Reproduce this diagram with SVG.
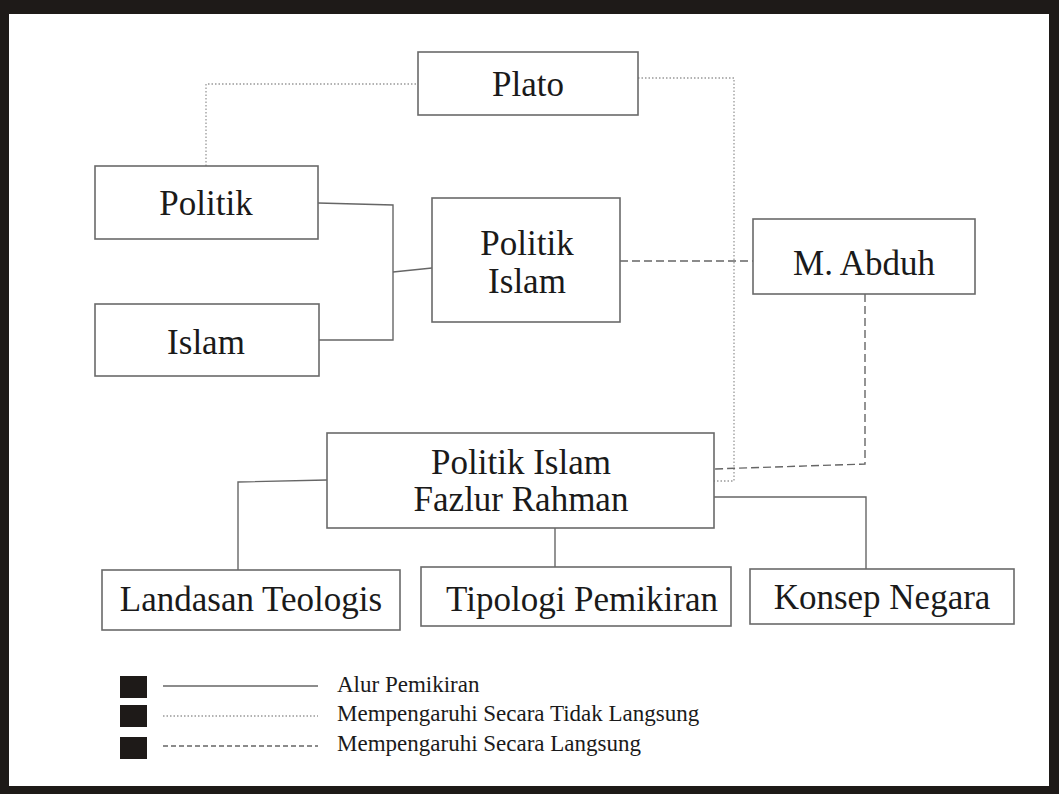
<svg xmlns="http://www.w3.org/2000/svg" width="1059" height="794" viewBox="0 0 1059 794">
<style>
.box{fill:#fff;stroke:#6a6a6a;stroke-width:1.6}
.t{font-family:"Liberation Serif","Times New Roman",serif;font-size:35px;fill:#1a1a1a;text-anchor:middle}
.lg{font-family:"Liberation Serif","Times New Roman",serif;font-size:23px;fill:#1a1a1a}
.solid{fill:none;stroke:#666;stroke-width:1.4}
.dot{fill:none;stroke:#999;stroke-width:1.3;stroke-dasharray:1.5 2}
.dash{fill:none;stroke:#666;stroke-width:1.4;stroke-dasharray:8 4}
</style>
<rect x="0" y="0" width="1059" height="794" fill="#1e1a18"/>
<rect x="9" y="14" width="1040" height="772" fill="#fff"/>
<g id="connectors">
<polyline class="solid" points="318,203 393,205 393,340 319,340"/>
<polyline class="solid" points="393,272 432,268"/>
<polyline class="dot" points="206,166 206,84 418,84"/>
<polyline class="dot" points="638,78 734,78 734,481 714,481"/>
<polyline class="dash" points="620,261 753,261"/>
<polyline class="dash" points="865,294 865,464 714,469"/>
<polyline class="solid" points="327,480 238,482 238,570"/>
<polyline class="solid" points="555,528 555,567"/>
<polyline class="solid" points="714,497 866,497 866,569"/>
</g>
<g id="plato"><rect class="box" x="418" y="52" width="220" height="63"/><text class="t" x="528" y="96">Plato</text></g>
<g id="politik"><rect class="box" x="95" y="166" width="223" height="73"/><text class="t" x="206" y="215">Politik</text></g>
<g id="islam"><rect class="box" x="95" y="304" width="224" height="72"/><text class="t" x="206" y="354">Islam</text></g>
<g id="politik-islam"><rect class="box" x="432" y="198" width="188" height="124"/><text class="t" x="527" y="255">Politik</text><text class="t" x="527" y="293">Islam</text></g>
<g id="abduh"><rect class="box" x="753" y="219" width="222" height="75"/><text class="t" x="864" y="275">M. Abduh</text></g>
<g id="fazlur"><rect class="box" x="327" y="433" width="387" height="95"/><text class="t" x="521" y="474">Politik Islam</text><text class="t" x="521" y="511">Fazlur Rahman</text></g>
<g id="landasan"><rect class="box" x="102" y="570" width="298" height="60"/><text class="t" x="251" y="611">Landasan Teologis</text></g>
<g id="tipologi"><rect class="box" x="421" y="567" width="310" height="59"/><text class="t" x="582" y="611">Tipologi Pemikiran</text></g>
<g id="konsep"><rect class="box" x="750" y="569" width="264" height="55"/><text class="t" x="882" y="609">Konsep Negara</text></g>
<g id="legend">
<rect x="120" y="676" width="27" height="22" fill="#1e1a18"/>
<rect x="120" y="705" width="27" height="22" fill="#1e1a18"/>
<rect x="120" y="737" width="27" height="22" fill="#1e1a18"/>
<line class="solid" x1="163" y1="686" x2="318" y2="686"/>
<line class="dot" x1="163" y1="716" x2="318" y2="716"/>
<line class="dash" x1="163" y1="746" x2="318" y2="746" style="stroke-dasharray:5 3"/>
<text class="lg" x="337" y="692">Alur Pemikiran</text>
<text class="lg" x="337" y="721">Mempengaruhi Secara Tidak Langsung</text>
<text class="lg" x="337" y="751">Mempengaruhi Secara Langsung</text>
</g>
</svg>
